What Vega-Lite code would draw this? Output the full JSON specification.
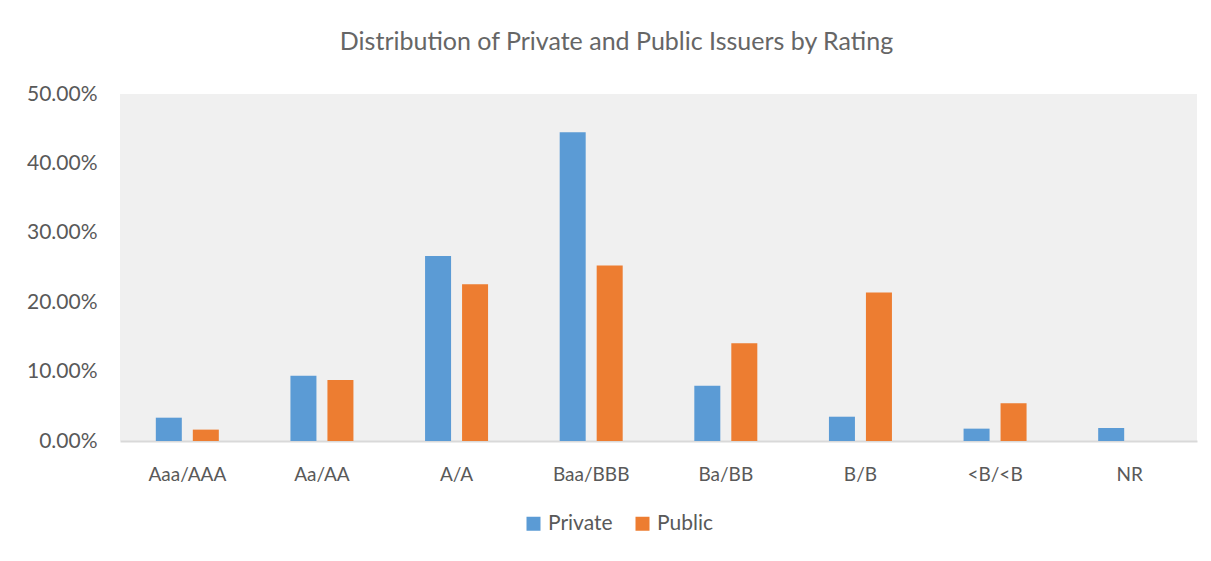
{
  "$schema": "https://vega.github.io/schema/vega-lite/v6.json",
  "width": 1077,
  "height": 347,
  "autosize": {"type": "none"},
  "padding": {"left": 120, "top": 94, "right": 14, "bottom": 120},
  "background": "white",
  "title": {
    "text": "Distribution of Private and Public Issuers by Rating",
    "font": "Lato",
    "fontSize": 25,
    "fontWeight": 400,
    "color": "#666666",
    "anchor": "middle",
    "dx": -42,
    "baseline": "alphabetic",
    "offset": 8
  },
  "data": {
    "values": [
      {"rating": "Aaa/AAA", "type": "Private", "share": 0.0336},
      {"rating": "Aaa/AAA", "type": "Public", "share": 0.0164},
      {"rating": "Aa/AA", "type": "Private", "share": 0.094},
      {"rating": "Aa/AA", "type": "Public", "share": 0.088},
      {"rating": "A/A", "type": "Private", "share": 0.2666},
      {"rating": "A/A", "type": "Public", "share": 0.2258},
      {"rating": "Baa/BBB", "type": "Private", "share": 0.445},
      {"rating": "Baa/BBB", "type": "Public", "share": 0.253},
      {"rating": "Ba/BB", "type": "Private", "share": 0.0797},
      {"rating": "Ba/BB", "type": "Public", "share": 0.1408},
      {"rating": "B/B", "type": "Private", "share": 0.035},
      {"rating": "B/B", "type": "Public", "share": 0.214},
      {"rating": "<B/<B", "type": "Private", "share": 0.0178},
      {"rating": "<B/<B", "type": "Public", "share": 0.0543},
      {"rating": "NR", "type": "Private", "share": 0.0187},
      {"rating": "NR", "type": "Public", "share": 0}
    ]
  },
  "mark": {"type": "bar"},
  "encoding": {
    "x": {
      "field": "rating",
      "type": "nominal",
      "sort": null,
      "scale": {"paddingInner": 0.532, "paddingOuter": 0.266},
      "axis": {
        "title": null,
        "labelAngle": 0,
        "ticks": false,
        "labelPadding": 39,
        "labelBaseline": "alphabetic",
        "labelFont": "Lato",
        "labelFontSize": 19,
        "labelColor": "#595959",
        "domainColor": "#d9d9d9",
        "domainWidth": 2,
        "grid": false
      }
    },
    "xOffset": {
      "field": "type",
      "type": "nominal",
      "scale": {"paddingInner": 0.297, "paddingOuter": 0}
    },
    "y": {
      "field": "share",
      "type": "quantitative",
      "scale": {"domain": [0, 0.5]},
      "axis": {
        "title": null,
        "format": ".2%",
        "values": [0, 0.1, 0.2, 0.3, 0.4, 0.5],
        "ticks": false,
        "domain": false,
        "grid": false,
        "labelPadding": 23,
        "labelFont": "Lato",
        "labelFontSize": 21,
        "labelColor": "#595959"
      }
    },
    "color": {
      "field": "type",
      "type": "nominal",
      "scale": {"domain": ["Private", "Public"], "range": ["#5B9BD5", "#ED7D31"]},
      "legend": {
        "title": null,
        "orient": "none",
        "direction": "horizontal",
        "legendX": 403,
        "legendY": 419,
        "symbolType": "square",
        "symbolSize": 196,
        "symbolStrokeWidth": 0,
        "labelFont": "Lato",
        "labelFontSize": 21,
        "labelColor": "#595959",
        "labelOffset": 4,
        "columnPadding": 19
      }
    }
  },
  "config": {
    "view": {"fill": "#f0f0f0", "stroke": null}
  }
}
